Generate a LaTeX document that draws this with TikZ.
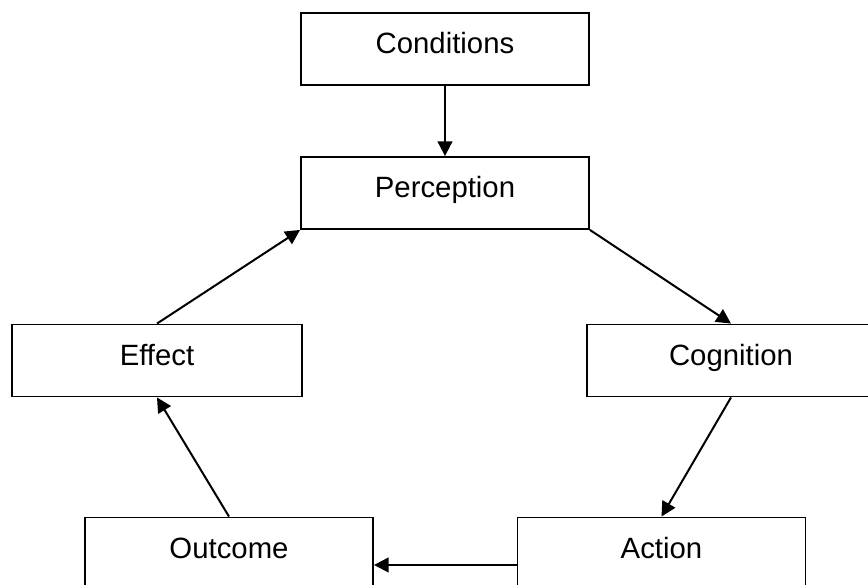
\documentclass[tikz,border=0pt]{standalone}
\usepackage{fontspec}
\setmainfont{Liberation Sans}
\usetikzlibrary{arrows.meta}
\begin{document}
\begin{tikzpicture}[x=0.75pt,y=-0.75pt,
	box/.style={draw, line width=1.4pt, minimum width=216pt, minimum height=54pt, inner sep=0pt,
		text height=16pt, text depth=9pt, font=\fontsize{22}{26}\selectfont},
	arr/.style={-{Triangle[length=11pt,width=11pt]}, line width=1.5pt}]
	\useasboundingbox (0,0) rectangle (868,585);
	\clip (0,0) rectangle (868,585);

	\node[box] (cond) at (445,49) {Conditions};
	\node[box] (perc) at (445,193) {Perception};
	\node[box, minimum width=218pt] (effect) at (157,360.5) {Effect};
	\node[box] (cogn) at (731,360.5) {Cognition};
	\node[box] (outc) at (229,553.5) {Outcome};
	\node[box] (act) at (661.5,553.5) {Action};

	\draw[arr] (cond.south) -- (perc.north);
	\draw[arr] (perc.south east) -- (cogn.north);
	\draw[arr] (cogn.south) -- (act.north);
	\draw[arr] ([yshift=-8.6pt]act.west) -- ([yshift=-8.6pt]outc.east);
	\draw[arr] (outc.north) -- (effect.south);
	\draw[arr] (effect.north) -- (perc.south west);
\end{tikzpicture}
\end{document}
